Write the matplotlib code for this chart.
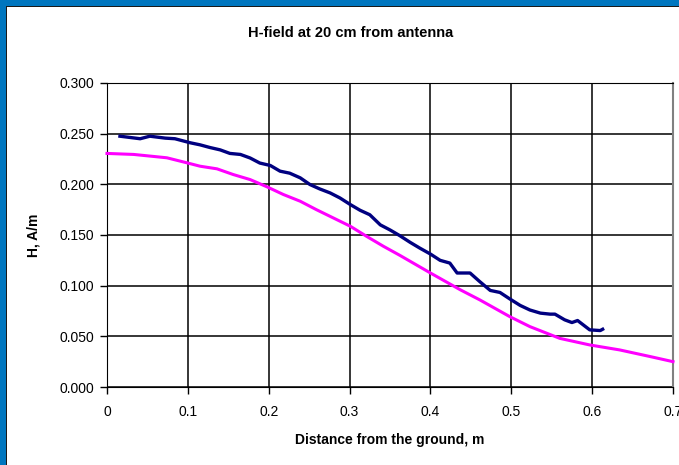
import matplotlib
matplotlib.use("Agg")
import matplotlib.pyplot as plt
from matplotlib.patches import Rectangle

# measured curve (navy)
dist_meas = [0.016, 0.041, 0.053, 0.072, 0.084, 0.103, 0.115, 0.127, 0.140, 0.152,
             0.165, 0.177, 0.189, 0.202, 0.214, 0.226, 0.239, 0.251, 0.263, 0.276,
             0.288, 0.301, 0.313, 0.325, 0.338, 0.350, 0.362, 0.375, 0.387, 0.400,
             0.412, 0.424, 0.433, 0.449, 0.461, 0.474, 0.486, 0.498, 0.511, 0.523,
             0.536, 0.548, 0.554, 0.566, 0.575, 0.582, 0.589, 0.597, 0.610, 0.613]
h_meas = [0.2475, 0.2450, 0.2475, 0.2456, 0.2450, 0.2410, 0.2390, 0.2364, 0.2340, 0.2305,
          0.2295, 0.2260, 0.2210, 0.2186, 0.2130, 0.2110, 0.2064, 0.1998, 0.1955, 0.1915,
          0.1866, 0.1800, 0.1744, 0.1700, 0.1600, 0.1550, 0.1494, 0.1427, 0.1370, 0.1312,
          0.1250, 0.1223, 0.1125, 0.1125, 0.1040, 0.0953, 0.0933, 0.0870, 0.0805, 0.0760,
          0.0729, 0.0719, 0.0719, 0.0663, 0.0636, 0.0656, 0.0613, 0.0564, 0.0557, 0.0570]

# calculated curve (magenta)
dist_calc = [0.000, 0.033, 0.074, 0.099, 0.115, 0.136, 0.156, 0.177, 0.198, 0.218,
             0.239, 0.259, 0.280, 0.301, 0.321, 0.342, 0.362, 0.400, 0.437, 0.461,
             0.498, 0.523, 0.560, 0.597, 0.634, 0.672, 0.700]
h_calc = [0.2305, 0.2295, 0.2262, 0.2212, 0.2179, 0.2153, 0.2097, 0.2047, 0.1975, 0.1900,
          0.1833, 0.1750, 0.1668, 0.1586, 0.1487, 0.1388, 0.1300, 0.1125, 0.0959, 0.0860,
          0.0695, 0.0596, 0.0480, 0.0415, 0.0366, 0.0300, 0.0250]

x_ticks = [0, 0.1, 0.2, 0.3, 0.4, 0.5, 0.6, 0.7]
x_labels = ["0", "0.1", "0.2", "0.3", "0.4", "0.5", "0.6", "0.7"]
y_ticks = [0.0, 0.05, 0.1, 0.15, 0.2, 0.25, 0.3]

plt.rcParams['font.family'] = ['Liberation Sans', 'DejaVu Sans']

W, H = 679, 465
fig = plt.figure(figsize=(W / 100, H / 100), dpi=100)
fig.patch.set_facecolor("white")

# blue frame (left and top only, the rest is cut off)
fig.add_artist(Rectangle((0, 0), 6 / W, 1, transform=fig.transFigure,
                         facecolor="#0076BF", edgecolor="none"))
fig.add_artist(Rectangle((0, 1 - 6 / H), 1, 6 / H, transform=fig.transFigure,
                         facecolor="#0076BF", edgecolor="none"))
fig.add_artist(Rectangle((6 / W, 0), 1.5 / W, 1 - 6 / H, transform=fig.transFigure,
                         facecolor="#1a1a1a", edgecolor="none"))
fig.add_artist(Rectangle((6 / W, 1 - 7.5 / H), 1, 1.5 / H, transform=fig.transFigure,
                         facecolor="#1a1a1a", edgecolor="none"))

ax = fig.add_axes([107 / W, 78 / H, 566 / W, 304 / H])
ax.plot(dist_calc, h_calc, color="#FF00FF", lw=2.2, zorder=3, clip_on=False)
ax.plot(dist_meas, h_meas, color="#000080", lw=2.4, zorder=4)

ax.set_xlim(0, 0.7)
ax.set_ylim(0, 0.3)
ax.set_xticks(x_ticks)
ax.set_xticklabels(x_labels)
ax.set_yticks(y_ticks)
ax.set_yticklabels([f"{v:.3f}" for v in y_ticks])
ax.grid(True, color="black", lw=1.1)
ax.set_axisbelow(True)
ax.tick_params(direction="out", length=5, width=1, labelsize=10, pad=4)
ax.tick_params(axis="x", pad=8)
for s in ["left", "bottom"]:
    ax.spines[s].set_color("black")
ax.spines["right"].set_color("#808080")
ax.spines["right"].set_linewidth(1.5)
ax.spines["top"].set_color("black")

ax.set_xlabel("Distance from the ground, m", fontsize=10, fontweight="bold", labelpad=10)
ax.set_ylabel("H, A/m", fontsize=10, fontweight="bold", labelpad=14)
fig.text(351 / W, 1 - 33 / H, "H-field at 20 cm from antenna", ha="center", va="center",
         fontsize=10.5, fontweight="bold")

fig.savefig("out.png", dpi=100)
